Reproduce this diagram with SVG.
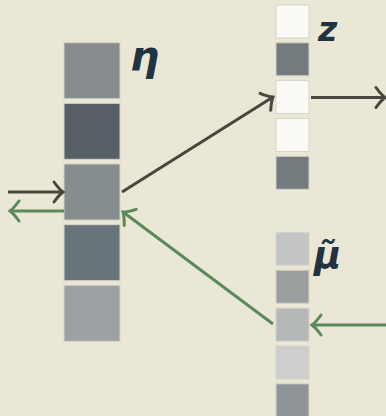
<svg xmlns="http://www.w3.org/2000/svg" width="386" height="416" viewBox="0 0 386 416">
<defs>
<style>
.lbl{font-family:"DejaVu Sans","Liberation Sans",sans-serif;font-weight:bold;font-style:italic;fill:#1f3340}
.cell{stroke:#d6d4c8;stroke-width:1}
.dk{fill:none;stroke:#48463f;stroke-width:3}
.gr{fill:none;stroke:#5b8a5a;stroke-width:3}
</style>
<marker id="hd" markerUnits="userSpaceOnUse" markerWidth="24" markerHeight="26" viewBox="-12 -13 14 26" refX="0" refY="0" orient="auto">
<path d="M -9 -10 Q -4 -3 0 0 Q -4 3 -9 10" fill="none" stroke="#48463f" stroke-width="3" stroke-linecap="round"/>
</marker>
<marker id="hg" markerUnits="userSpaceOnUse" markerWidth="24" markerHeight="26" viewBox="-12 -13 14 26" refX="0" refY="0" orient="auto">
<path d="M -9 -10 Q -4 -3 0 0 Q -4 3 -9 10" fill="none" stroke="#5b8a5a" stroke-width="3" stroke-linecap="round"/>
</marker>
</defs>
<rect width="386" height="416" fill="#ebe7d7"/>
<g id="eta">
<rect class="cell" x="64" y="42.7" width="56" height="56" fill="#878d8e"/>
<rect class="cell" x="64" y="103.3" width="56" height="56" fill="#566066"/>
<rect class="cell" x="64" y="164" width="56" height="56" fill="#868d8f"/>
<rect class="cell" x="64" y="224.7" width="56" height="56" fill="#68737a"/>
<rect class="cell" x="64" y="285.3" width="56" height="56" fill="#9ca0a2"/>
<text class="lbl" x="130" y="70" font-size="41">η</text>
</g>
<g id="z">
<rect class="cell" x="276" y="5" width="33" height="33" fill="#fbfaf6"/>
<rect class="cell" x="276" y="42.8" width="33" height="33" fill="#737b7e"/>
<rect class="cell" x="276" y="80.6" width="33" height="33" fill="#fbfaf6"/>
<rect class="cell" x="276" y="118.5" width="33" height="33" fill="#fbfaf6"/>
<rect class="cell" x="276" y="156.3" width="33" height="33" fill="#737b7e"/>
<text class="lbl" x="318" y="41" font-size="33">z</text>
</g>
<g id="mu">
<rect class="cell" x="276" y="232.3" width="33" height="33" fill="#c3c6c5"/>
<rect class="cell" x="276" y="270.2" width="33" height="33" fill="#9a9e9f"/>
<rect class="cell" x="276" y="308.1" width="33" height="33" fill="#b5b8b8"/>
<rect class="cell" x="276" y="346" width="33" height="33" fill="#cdcecd"/>
<rect class="cell" x="276" y="383.8" width="33" height="33" fill="#8f9597"/>
<text class="lbl" x="314" y="268" font-size="37">μ̃</text>
</g>
<g id="connectors">
<line class="dk" x1="8" y1="192" x2="63" y2="192" marker-end="url(#hd)"/>
<line class="gr" x1="64" y1="211" x2="10" y2="211" marker-end="url(#hg)"/>
<line class="dk" x1="122" y1="192" x2="273" y2="97" marker-end="url(#hd)"/>
<line class="dk" x1="311" y1="97.5" x2="385" y2="97.5" marker-end="url(#hd)"/>
<line class="gr" x1="386" y1="325" x2="312" y2="325" marker-end="url(#hg)"/>
<line class="gr" x1="273" y1="324" x2="123" y2="212" marker-end="url(#hg)"/>
</g>
</svg>
